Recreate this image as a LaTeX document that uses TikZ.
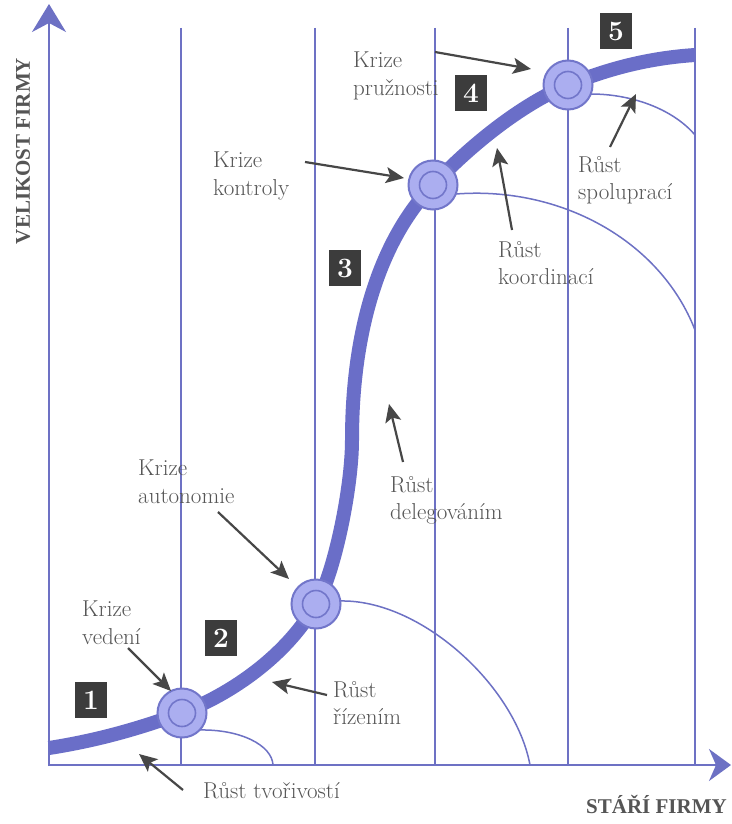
\documentclass[tikz,border=0pt]{standalone}
\usepackage{fontspec}
\newfontfamily\axisfont{Liberation Serif}
\usetikzlibrary{arrows.meta}
\definecolor{axisblue}{HTML}{6D71C4}
\definecolor{curveblue}{HTML}{6A6EC8}
\definecolor{ringfill}{HTML}{ABAEF0}
\definecolor{ringline}{HTML}{7276CA}
\definecolor{annot}{HTML}{474747}
\definecolor{txtgray}{HTML}{555555}
\definecolor{boxgray}{HTML}{3C3C3C}
\begin{document}
\begin{tikzpicture}[x=1pt,y=-1pt,
  axisline/.style={draw=axisblue, line width=2pt},
  gridline/.style={draw=axisblue, line width=1.6pt},
  growth/.style={draw=axisblue, line width=1.5pt},
  lifecurve/.style={draw=curveblue, line width=14pt},
  crisis/.style={circle, draw=ringline, line width=2pt, fill=ringfill, minimum size=49pt, inner sep=0pt},
  crisisin/.style={circle, draw=ringline, line width=1.6pt, fill=ringfill, minimum size=27pt, inner sep=0pt},
  lbl/.style={anchor=north west, inner sep=0pt, align=left, text=txtgray, font=\fontsize{23}{27.5}\selectfont},
  stagebox/.style={fill=boxgray, text=white, font=\fontsize{28}{28}\selectfont\bfseries, minimum width=32pt, minimum height=36pt, inner sep=0pt},
  pointer/.style={draw=annot, line width=2.2pt, -{Stealth[length=18pt,width=16pt,inset=4pt]}},
  axislbl/.style={text=txtgray, inner sep=0pt, font=\axisfont\fontsize{21}{21}\selectfont\bfseries},
]
\useasboundingbox[fill=white] (0,0) rectangle (731,824);

% axes
\coordinate (o) at (49,765);
\coordinate (ytip) at (49,4);
\coordinate (xtip) at (731,765);
\draw[axisline, -{Stealth[length=28pt,width=34pt,inset=9pt]}] (49,766) -- (ytip);
\draw[axisline, -{Stealth[length=22pt,width=32pt,inset=7pt]}] (48,765) -- (xtip);

% vertical lines
\foreach \xx in {181,315,435,568,695}
  \draw[gridline] (\xx,28) -- (\xx,765);

% crisis points (positions)
\coordinate (p1) at (182,713);
\coordinate (p2) at (316,604);
\coordinate (p3) at (433,185);
\coordinate (p4) at (568,85);

% growth arcs
\draw[growth] (199,730) .. controls (240,729) and (272,745) .. (273,765);
\draw[growth] (340,601) .. controls (420,599) and (515,685) .. (530,765);
\draw[growth] (456,194) .. controls (560,186) and (660,240) .. (695,330);
\draw[growth] (591,94) .. controls (630,94) and (672,108) .. (695,135);

% thick life-cycle curve
\draw[lifecurve] (49,748) .. controls (100,740) and (140,728) .. (p1)
  .. controls (240,690) and (290,650) .. (p2)
  .. controls (333,578) and (352,490) .. (352,440)
  .. controls (352,330) and (380,240) .. (p3)
  .. controls (470,146) and (520,105) .. (p4)
  .. controls (610,68) and (650,58) .. (695,55);

% crisis circles
\foreach \i in {1,2,3,4} {
  \node[crisis] (c\i) at (p\i) {};
  \node[crisisin] (ci\i) at (p\i) {};
}

% stage boxes
\node[stagebox] (s1) at (91,700) {1};
\node[stagebox] (s2) at (221,638) {2};
\node[stagebox] (s3) at (345,268) {3};
\node[stagebox] (s4) at (471,93) {4};
\node[stagebox] (s5) at (616,31) {5};

% labels
\node[lbl] (kved) at (82,601) {Krize\\vedení};
\node[lbl] (kaut) at (138,460) {Krize\\autonomie};
\node[lbl] (kkon) at (213,152) {Krize\\kontroly};
\node[lbl] (kpru) at (353,52) {Krize\\pružnosti};
\node[lbl] (rtvo) at (203,782) {Růst tvořivostí};
\node[lbl] (rriz) at (333,681) {Růst\\řízením};
\node[lbl] (rdel) at (390,476) {Růst\\delegováním};
\node[lbl] (rkoo) at (498,241) {Růst\\koordinací};
\node[lbl] (rspo) at (578,156) {Růst\\spoluprací};

% axis labels
\node[axislbl, rotate=90] (ylab) at (23,151) {VELIKOST FIRMY};
\node[axislbl, anchor=base east] (xlab) at (727,813) {STÁŘÍ FIRMY};

% pointer arrows
\coordinate (a1s) at (128,648); \coordinate (a1e) at (171,691);
\coordinate (a2s) at (218,512); \coordinate (a2e) at (289,579);
\coordinate (a3s) at (305,162); \coordinate (a3e) at (404,178);
\coordinate (a4s) at (435,52);  \coordinate (a4e) at (531,69);
\coordinate (a5s) at (183,790); \coordinate (a5e) at (139,754);
\coordinate (a6s) at (327,695); \coordinate (a6e) at (272,682);
\coordinate (a7s) at (403,462); \coordinate (a7e) at (389,404);
\coordinate (a8s) at (512,230); \coordinate (a8e) at (497,148);
\coordinate (a9s) at (610,147); \coordinate (a9e) at (636,94);
\foreach \i in {1,...,9}
  \draw[pointer] (a\i s) -- (a\i e);
\end{tikzpicture}
\end{document}
